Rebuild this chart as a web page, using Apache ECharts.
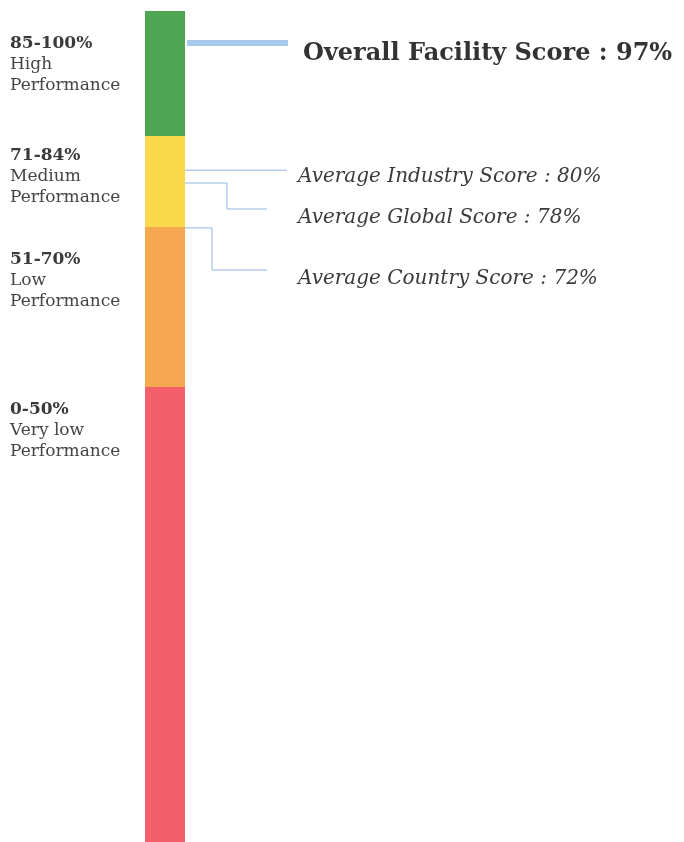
<!DOCTYPE html>
<html>
<head>
<meta charset="utf-8">
<script src="https://cdn.jsdelivr.net/npm/echarts@6/dist/echarts.min.js"></script>
<style>
  html, body { margin: 0; padding: 0; background: #fff; }
  #chart { width: 684px; height: 842px; }
</style>
</head>
<body>
<div id="chart"></div>
<script>
// performance bands, bottom to top (sizes = share of the bar as drawn)
const bandRanges = ['0-50%', '51-70%', '71-84%', '85-100%']
const bandNames = ['Very low', 'Low', 'Medium', 'High']
const bandSizes = [54.75, 19.25, 10.95, 15.05]
const bandColors = ['#f3606b', '#f5a84f', '#fbd84c', '#4ea653']

// score markers (level = where the pointer meets the bar)
const markerNames = ['Overall Facility Score', 'Average Industry Score', 'Average Global Score', 'Average Country Score']
const markerScores = [97, 80, 78, 72]
const markerLevels = [96.15, 80.85, 79.3, 73.9]

// layout of the pointer lines and their texts (pixels)
const labelRows = [54, 177, 218, 279]
const elbowX = [0, 0, 42, 27]
const tailEnd = [103, 102, 82, 82]
const labelLeft = -135        // left labels, relative to the bar
const labelDy = [12.5, 22.5, 9.5, 22.5]

const chart = echarts.init(document.getElementById('chart'))

const bandSeries = bandSizes.map((v, i) => ({
  type: 'bar',
  stack: 'bar',
  barWidth: '100%',
  data: [v],
  itemStyle: { color: bandColors[i] },
  silent: true,
  label: {
    show: true,
    position: [labelLeft, labelDy[i]],
    align: 'left',
    verticalAlign: 'top',
    formatter: () => '{r|' + bandRanges[i] + '}\n{n|' + bandNames[i] + '}\n{n|Performance}',
    rich: {
      r: { fontFamily: 'DejaVu Serif', fontWeight: 'bold', fontSize: 17, color: '#3a3a3a', lineHeight: 21 },
      n: { fontFamily: 'DejaVu Serif', fontSize: 17, color: '#454545', lineHeight: 21 }
    }
  }
}))

const option = {
  animation: false,
  grid: { left: 145, width: 40, top: 11, bottom: 0 },
  xAxis: { type: 'category', data: ['score'], show: false },
  yAxis: { type: 'value', min: 0, max: 100, show: false },
  series: bandSeries.concat([{
    type: 'custom',
    silent: true,
    data: markerLevels.map((v, i) => [0, v, i]),
    encode: { x: 0, y: 1 },
    renderItem: (params, api) => {
      const i = api.value(2)
      const pt = api.coord([api.value(0), api.value(1)])
      const x0 = pt[0] + api.size([1, 0])[0] / 2
      const y0 = pt[1]
      const text = markerNames[i] + ' : ' + markerScores[i] + '%'
      if (i === 0) {
        return {
          type: 'group',
          children: [
            { type: 'rect', shape: { x: x0 + 2, y: y0 - 3, width: tailEnd[i] - 2, height: 6 }, style: { fill: '#a9c9ea' } },
            { type: 'text', style: { text: text, x: 303, y: labelRows[i], fill: '#333', font: 'bold 24px "DejaVu Serif"', verticalAlign: 'middle' } }
          ]
        }
      }
      const tailY = labelRows[i] - 9
      const pts = elbowX[i] === 0
        ? [[x0, y0], [x0 + tailEnd[i], y0]]
        : [[x0, y0], [x0 + elbowX[i], y0], [x0 + elbowX[i], tailY], [x0 + tailEnd[i], tailY]]
      return {
        type: 'group',
        children: [
          { type: 'polyline', shape: { points: pts }, style: { stroke: '#8fb5e2', lineWidth: 1, fill: null } },
          { type: 'text', style: { text: text, x: 298, y: labelRows[i], fill: '#3a3a3a', font: 'italic 20px "DejaVu Serif"', verticalAlign: 'middle' } }
        ]
      }
    }
  }])
}

chart.setOption(option)
</script>
</body>
</html>
